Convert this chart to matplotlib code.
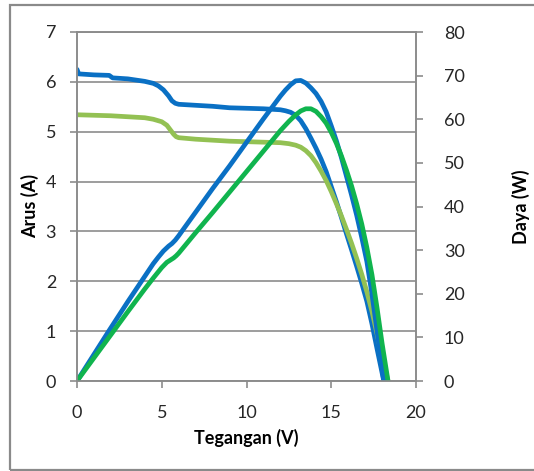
import matplotlib
matplotlib.use('Agg')
import matplotlib.pyplot as plt
from matplotlib.patches import Rectangle

plt.rcParams['font.family'] = ['Lato', 'DejaVu Sans']

# panel 1 (blue): voltage, current, power
v_blue = [0, 0.1, 1.0, 1.9, 2.1, 3.0, 4.0, 4.5, 4.8, 5.1, 5.4, 5.6, 5.8, 6.0, 7, 8, 9, 10,
          11, 11.5, 12, 12.3, 12.6, 12.9, 13.2, 13.5, 13.8, 14.1, 14.4, 14.7, 15.0, 15.3,
          15.6, 15.9, 16.2, 16.5, 16.8, 17.1, 17.4, 17.7, 18.1]
i_blue = [6.25, 6.16, 6.14, 6.13, 6.08, 6.06, 6.01, 5.97, 5.92, 5.84, 5.72, 5.62, 5.57, 5.55,
          5.53, 5.51, 5.48, 5.47, 5.46, 5.45, 5.44, 5.42, 5.39, 5.33, 5.22, 5.06, 4.87, 4.67,
          4.45, 4.20, 3.90, 3.60, 3.28, 2.95, 2.63, 2.30, 1.96, 1.60, 1.15, 0.65, 0]
p_blue = [0, 0.6, 6.1, 11.6, 12.8, 18.2, 24.0, 26.9, 28.4, 29.8, 30.9, 31.5, 32.3, 33.3,
          38.7, 44.1, 49.3, 54.7, 60.1, 62.7, 65.3, 66.7, 67.9, 68.8, 68.9, 68.3, 67.2, 65.9,
          64.1, 61.7, 58.5, 55.1, 51.2, 46.9, 42.6, 38.0, 32.9, 27.4, 20.0, 11.5, 0]

# panel 2 (green)
v_green = [0, 1, 2, 3, 4, 4.5, 5.0, 5.3, 5.5, 5.7, 5.85, 6.0, 7, 8, 9, 10, 11, 12, 12.5,
           12.9, 13.2, 13.5, 13.8, 14.1, 14.4, 14.7, 15.0, 15.3, 15.6, 15.9, 16.2, 16.5,
           16.8, 17.1, 17.4, 17.7, 18.0, 18.35]
i_green = [5.34, 5.33, 5.32, 5.30, 5.28, 5.25, 5.20, 5.13, 5.04, 4.95, 4.90, 4.88, 4.85,
           4.83, 4.81, 4.80, 4.79, 4.78, 4.76, 4.73, 4.69, 4.62, 4.52, 4.38, 4.21, 4.02,
           3.80, 3.56, 3.31, 3.04, 2.76, 2.46, 2.14, 1.79, 1.40, 0.95, 0.48, 0]
p_green = [0, 5.3, 10.6, 15.9, 21.1, 23.6, 26.0, 27.2, 27.7, 28.2, 28.7, 29.3, 34.0, 38.6,
           43.3, 48.0, 52.7, 57.4, 59.5, 61.0, 61.9, 62.4, 62.4, 61.8, 60.6, 59.1, 57.0,
           54.5, 51.6, 48.3, 44.7, 40.6, 36.0, 30.6, 24.4, 16.8, 8.6, 0]

BLUE = '#0a70c4'
LGREEN = '#93c153'
GREEN = '#10b44e'
GRID = '#8c8c8c'

fig = plt.figure(figsize=(5.34, 4.71), dpi=100)
ax = fig.add_axes([77/534, 90/471, 339/534, 349/471])
ax2 = ax.twinx()

lw = 3.4
style = dict(lw=lw, solid_capstyle='round', solid_joinstyle='round')
ax.plot(v_blue, i_blue, color=BLUE, **style)
ax.plot(v_green, i_green, color=LGREEN, **style)
ax2.plot(v_blue, p_blue, color=BLUE, **style)
ax2.plot(v_green, p_green, color=GREEN, **style)

ax.set_xlim(0, 20)
ax.set_ylim(0, 7)
ax2.set_ylim(0, 80)
ax.set_xticks(range(0, 21, 5))
ax.set_yticks(range(0, 8))
ax2.set_yticks(range(0, 81, 10))

ax.yaxis.grid(True, color=GRID, lw=1.2)
ax.set_axisbelow(True)

for a in (ax, ax2):
    for s in a.spines.values():
        s.set_color(GRID)
        s.set_linewidth(1.2)
    a.tick_params(colors=GRID, length=5, width=1.2, labelcolor='#262626', labelsize=13)
ax.tick_params(axis='y', pad=10)
ax.tick_params(axis='x', pad=12)
ax2.tick_params(axis='y', pad=15)

ax.set_xlabel('Tegangan (V)', fontsize=13, fontweight='bold', labelpad=6)
ax.set_ylabel('Arus (A)', fontsize=13, fontweight='bold', labelpad=5)
ax2.set_ylabel('Daya (W)', fontsize=13, fontweight='bold', labelpad=34)

# outer chart border
fig.patches.append(Rectangle((10/534, 1/471), 1.2, 465/471, transform=fig.transFigure,
                             fill=False, edgecolor='#8a8a8a', lw=1.6))

fig.savefig('out.png', dpi=100)
